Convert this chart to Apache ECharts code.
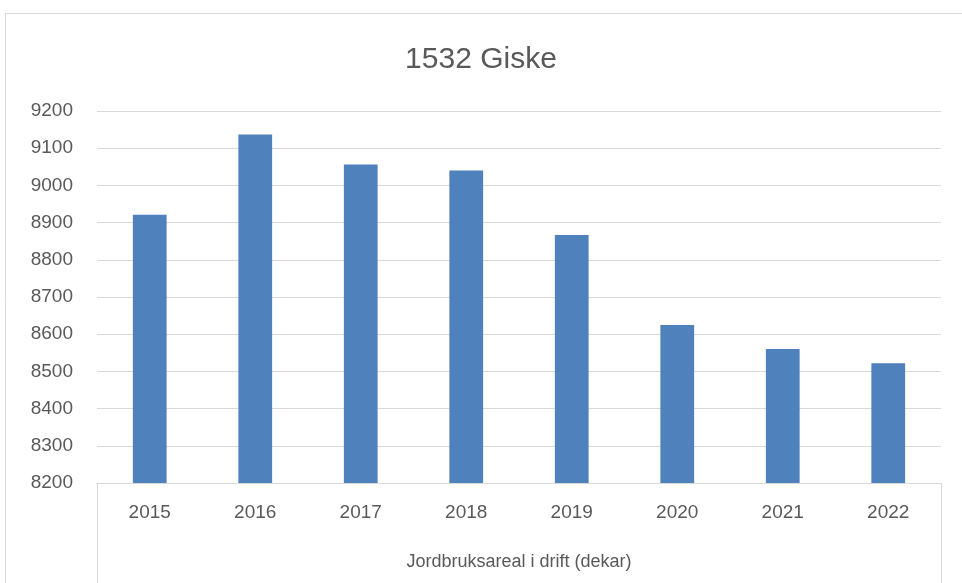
<!DOCTYPE html>
<html>
<head>
<meta charset="utf-8">
<script src="https://cdn.jsdelivr.net/npm/echarts@6/dist/echarts.min.js"></script>
<style>
html,body{margin:0;padding:0;background:#fff;}
#chart{width:962px;height:583px;}
</style>
</head>
<body>
<div id="chart"></div>
<script>
const titleText = '1532 Giske';
const categories = ['2015','2016','2017','2018','2019','2020','2021','2022'];
const values = [8921, 9137, 9056, 9040, 8867, 8625, 8560, 8522];
const axisName = 'Jordbruksareal i drift (dekar)';
const yMin = 8200, yMax = 9200, yStep = 100;

const chart = echarts.init(document.getElementById('chart'));
const gridLeft = 97, gridRight = 21, gridTop = 111, gridBottom = 100;
const W = 962, H = 583;
const textColor = '#595959';
const font = 'Liberation Sans, Arial, sans-serif';

chart.setOption({
  animation: false,
  backgroundColor: '#fff',
  title: {
    text: titleText,
    left: 'center',
    top: 40,
    textStyle: {color: textColor, fontSize: 30, fontWeight: 'normal', fontFamily: font}
  },
  grid: {left: gridLeft, right: gridRight, top: gridTop, bottom: gridBottom, containLabel: false},
  xAxis: {
    type: 'category',
    data: categories,
    axisLine: {lineStyle: {color: '#d9d9d9', width: 1}},
    axisTick: {show: false},
    axisLabel: {color: textColor, fontSize: 19, margin: 20, fontFamily: font},
    name: axisName,
    nameLocation: 'middle',
    nameGap: 70,
    nameTextStyle: {color: textColor, fontSize: 18, fontFamily: font}
  },
  yAxis: {
    type: 'value',
    min: yMin, max: yMax, interval: yStep,
    axisLine: {show: false},
    axisTick: {show: false},
    splitLine: {lineStyle: {color: '#d9d9d9', width: 1}},
    axisLabel: {color: textColor, fontSize: 19, margin: 24, fontFamily: font, formatter: v => String(v)}
  },
  series: [{
    type: 'bar',
    data: values,
    barWidth: '32%',
    itemStyle: {color: '#4F81BD'}
  }],
  graphic: [
    {type: 'rect', shape: {x: 5.5, y: 13.5, width: 1000, height: 1000}, style: {fill: 'none', stroke: '#d9d9d9', lineWidth: 1}, silent: true, z: -1},
    {type: 'line', shape: {x1: gridLeft + 0.5, y1: H - gridBottom, x2: gridLeft + 0.5, y2: H}, style: {stroke: '#d9d9d9', lineWidth: 1}, silent: true},
    {type: 'line', shape: {x1: W - gridRight + 0.5, y1: H - gridBottom, x2: W - gridRight + 0.5, y2: H}, style: {stroke: '#d9d9d9', lineWidth: 1}, silent: true}
  ]
});
</script>
</body>
</html>
